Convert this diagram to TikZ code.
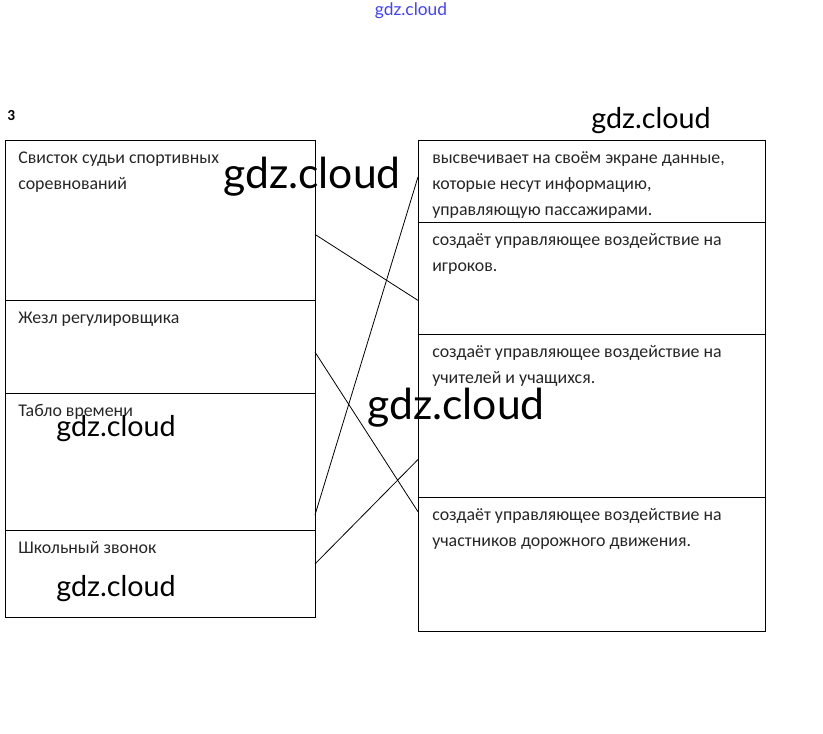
\documentclass[tikz,border=0pt]{standalone}
\usepackage{fontspec}
\setmainfont{Carlito}
\newfontfamily\wmfont{Lato}
\usetikzlibrary{positioning,calc}

\begin{document}
\begin{tikzpicture}[x=0.75pt, y=-0.75pt,
      cell/.style={draw, line width=0.7pt, rectangle, inner sep=0pt, outer sep=0pt},
      leftcell/.style={cell, minimum width=232.5pt},
      rightcell/.style={cell, minimum width=260.25pt},
      txt/.style={anchor=north west, inner sep=0pt, align=left,
          font=\fontsize{13.4}{19.5}\selectfont, text=black!85},
      wm/.style={inner sep=0pt, font=\wmfont}]

      \useasboundingbox (0,0) rectangle (823,733);

      % Task number
      \node(num)[anchor=west, inner sep=0pt, font=\bfseries\fontsize{11.5}{11.5}\selectfont] at (7,116) {3};

      % Left column: devices
      \node(l1)[leftcell, minimum height=120pt, anchor=north west] at (5,140) {};
      \node(l2)[leftcell, minimum height=69.75pt, below=0pt of l1] {};
      \node(l3)[leftcell, minimum height=102.75pt, below=0pt of l2] {};
      \node(l4)[leftcell, minimum height=65.25pt, below=0pt of l3] {};

      % Labels of left column
      \node(tl1)[txt] at ([xshift=9.75pt,yshift=-8.5pt]l1.north west)
          {Свисток судьи спортивных\\соревнований};
      \node(tl2)[txt] at ([xshift=9.75pt,yshift=-8.5pt]l2.north west) {Жезл регулировщика};
      \node(tl3)[txt] at ([xshift=9.75pt,yshift=-8.5pt]l3.north west) {Табло времени};
      \node(tl4)[txt] at ([xshift=9.75pt,yshift=-8.5pt]l4.north west) {Школьный звонок};

      % Right column: actions
      \node(r1)[rightcell, minimum height=61.5pt, anchor=north west] at (418,140) {};
      \node(r2)[rightcell, minimum height=84pt, below=0pt of r1] {};
      \node(r3)[rightcell, minimum height=122.25pt, below=0pt of r2] {};
      \node(r4)[rightcell, minimum height=100.5pt, below=0pt of r3] {};

      % Labels of right column
      \node(tr1)[txt] at ([xshift=10.5pt,yshift=-8.5pt]r1.north west)
          {высвечивает на своём экране данные,\\которые несут информацию,\\управляющую пассажирами.};
      \node(tr2)[txt] at ([xshift=10.5pt,yshift=-8.5pt]r2.north west)
          {создаёт управляющее воздействие на\\игроков.};
      \node(tr3)[txt] at ([xshift=10.5pt,yshift=-8.5pt]r3.north west)
          {создаёт управляющее воздействие на\\учителей и учащихся.};
      \node(tr4)[txt] at ([xshift=10.5pt,yshift=-8.5pt]r4.north west)
          {создаёт управляющее воздействие на\\участников дорожного движения.};

      % Matching lines
      \draw[line width=0.6pt] ($(l1.north east)!0.59!(l1.south east)$) -- ($(r2.north west)!0.70!(r2.south west)$);
      \draw[line width=0.6pt] ($(l2.north east)!0.56!(l2.south east)$) -- ($(r4.north west)!0.11!(r4.south west)$);
      \draw[line width=0.6pt] ($(l3.north east)!0.89!(l3.south east)$) -- ($(r1.north west)!0.45!(r1.south west)$);
      \draw[line width=0.6pt] ($(l4.north east)!0.39!(l4.south east)$) -- ($(r3.north west)!0.77!(r3.south west)$);

      % Watermarks
      \node(wmtop)[wm, text=blue!75, font=\wmfont\fontsize{13}{13}\selectfont] at (411,11) {gdz.cloud};
      \node(wm1)[wm, font=\wmfont\fontsize{32}{32}\selectfont] at (312,177) {gdz.cloud};
      \node(wm2)[wm, font=\wmfont\fontsize{21.5}{21.5}\selectfont] at (651,121) {gdz.cloud};
      \node(wm3)[wm, font=\wmfont\fontsize{32}{32}\selectfont] at (456,408) {gdz.cloud};
      \node(wm4)[wm, font=\wmfont\fontsize{21.5}{21.5}\selectfont] at (116,429) {gdz.cloud};
      \node(wm5)[wm, font=\wmfont\fontsize{21.5}{21.5}\selectfont] at (116,589) {gdz.cloud};

\end{tikzpicture}
\end{document}
